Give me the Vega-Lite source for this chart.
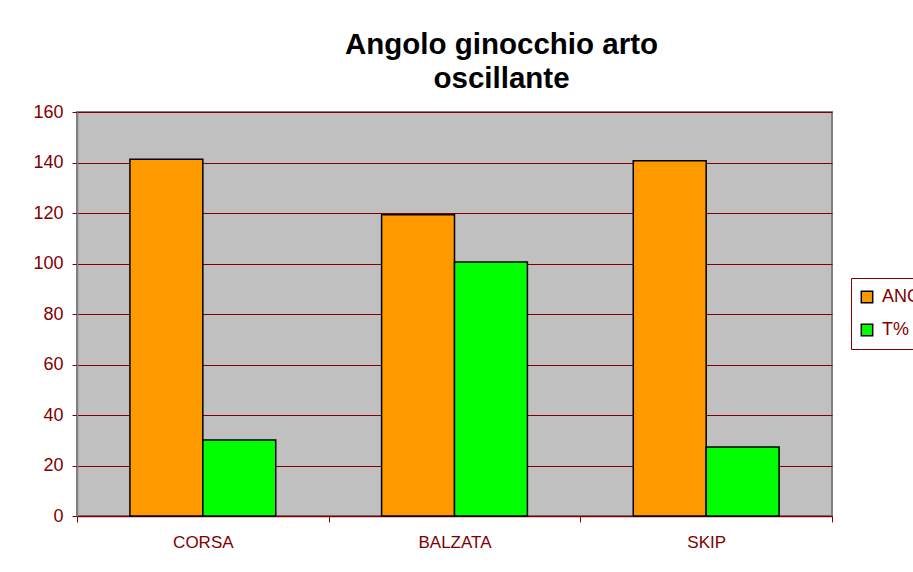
{
  "$schema": "https://vega.github.io/schema/vega-lite/v6.json",
  "width": 755,
  "height": 404,
  "autosize": {"type": "none"},
  "padding": {"left": 77, "top": 112, "right": 81, "bottom": 56},
  "background": "white",
  "title": {
    "text": ["Angolo ginocchio arto", "oscillante"],
    "font": "Liberation Sans",
    "fontSize": 29.5,
    "fontWeight": "bold",
    "color": "black",
    "anchor": "middle",
    "dx": 47,
    "offset": 9,
    "lineHeight": 34
  },
  "data": {
    "values": [
      {"categoria": "CORSA", "serie": "ANGOLO", "valore": 141.3},
      {"categoria": "CORSA", "serie": "T%", "valore": 30.1},
      {"categoria": "BALZATA", "serie": "ANGOLO", "valore": 119.3},
      {"categoria": "BALZATA", "serie": "T%", "valore": 100.6},
      {"categoria": "SKIP", "serie": "ANGOLO", "valore": 140.7},
      {"categoria": "SKIP", "serie": "T%", "valore": 27.3}
    ]
  },
  "mark": {"type": "bar", "stroke": "black", "strokeWidth": 1.5},
  "encoding": {
    "x": {
      "field": "categoria",
      "type": "nominal",
      "sort": ["CORSA", "BALZATA", "SKIP"],
      "scale": {"paddingInner": 0, "paddingOuter": 0},
      "axis": {
        "title": null,
        "labelAngle": 0,
        "labelFont": "Liberation Sans",
        "labelFontSize": 17,
        "labelColor": "#800000",
        "labelPadding": 12,
        "tickBand": "extent",
        "tickColor": "#800000",
        "tickSize": 6,
        "domainColor": "#800000",
        "domainWidth": 1.5,
        "grid": false
      }
    },
    "xOffset": {
      "field": "serie",
      "type": "nominal",
      "sort": ["ANGOLO", "T%"],
      "scale": {"paddingInner": 0, "paddingOuter": 0.726}
    },
    "y": {
      "field": "valore",
      "type": "quantitative",
      "scale": {"domain": [0, 160], "nice": false},
      "axis": {
        "title": null,
        "values": [0, 20, 40, 60, 80, 100, 120, 140, 160],
        "labelFont": "Liberation Sans",
        "labelFontSize": 18,
        "labelColor": "#800000",
        "labelPadding": 9,
        "tickColor": "#800000",
        "tickSize": 5,
        "domainColor": "#808080",
        "domainWidth": 1.5,
        "grid": true,
        "gridColor": "#800000",
        "gridOpacity": 1,
        "gridWidth": 1
      }
    },
    "color": {
      "field": "serie",
      "type": "nominal",
      "scale": {"domain": ["ANGOLO", "T%"], "range": ["#FF9900", "#00FF00"]},
      "legend": {
        "title": null,
        "orient": "none",
        "legendX": 774,
        "legendY": 166,
        "strokeColor": "#800000",
        "padding": 10,
        "symbolType": "square",
        "symbolSize": 130,
        "symbolStrokeColor": "black",
        "symbolStrokeWidth": 1.5,
        "symbolOffset": -3,
        "labelFont": "Liberation Sans",
        "labelFontSize": 18,
        "labelColor": "#800000",
        "labelOffset": 6,
        "rowPadding": 15
      }
    }
  },
  "config": {
    "view": {"fill": "#C0C0C0", "stroke": "#808080", "strokeWidth": 2}
  }
}
